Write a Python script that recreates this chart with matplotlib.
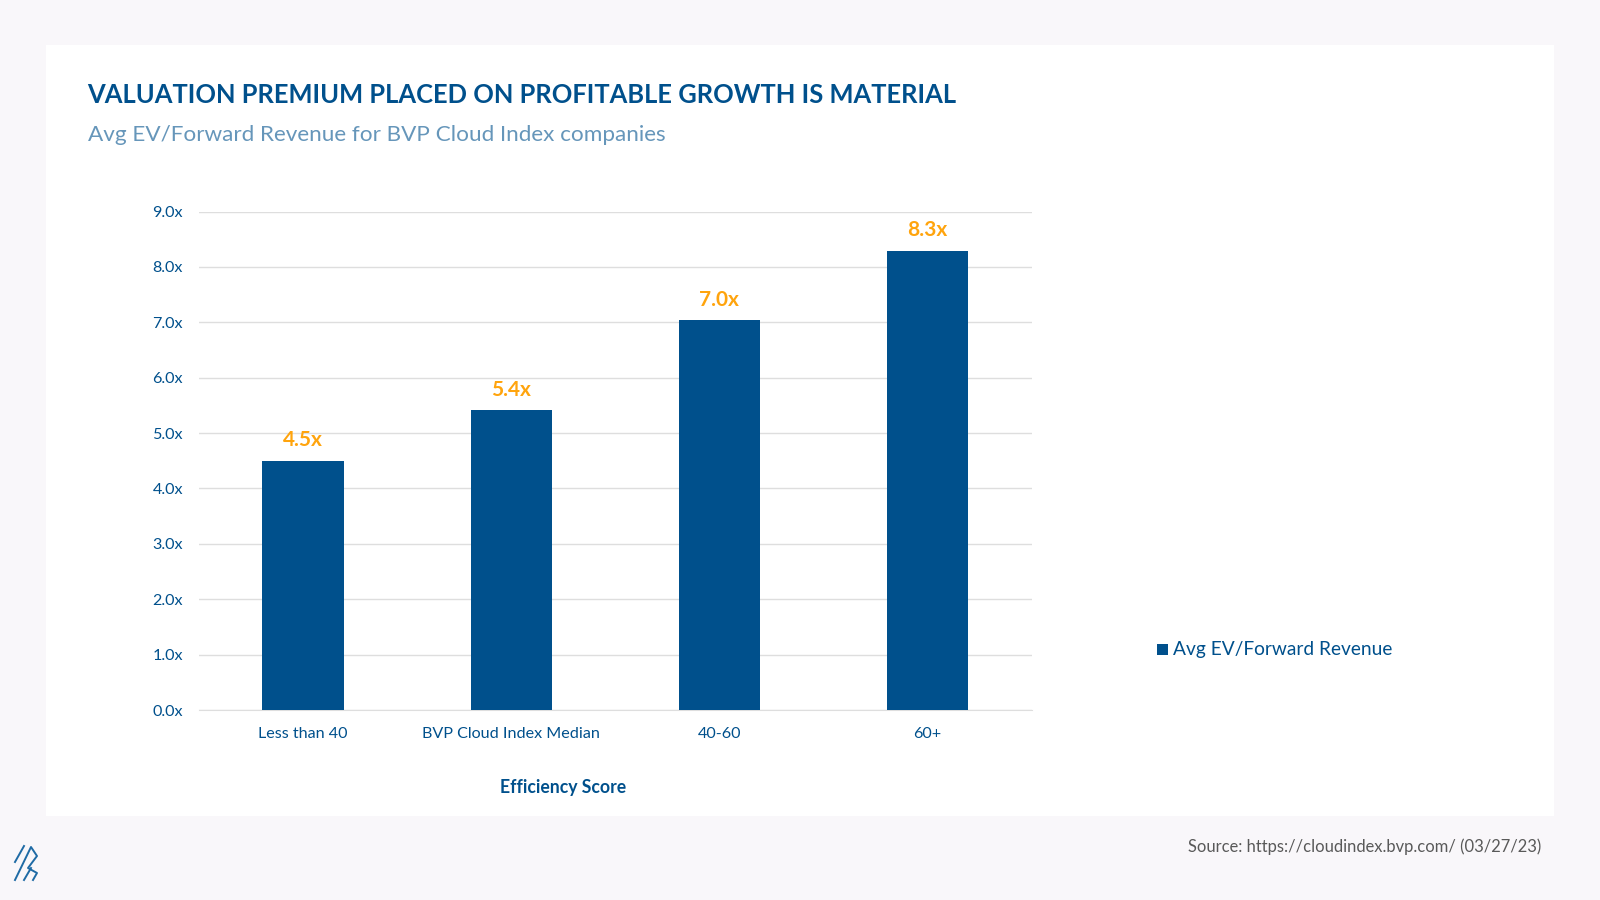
import matplotlib.pyplot as plt
from matplotlib.lines import Line2D
from matplotlib.patches import Rectangle

plt.rcParams['font.family'] = ['Lato', 'DejaVu Sans']

# Data
categories = ['Less than 40', 'BVP Cloud Index Median', '40-60', '60+']
ev_revenue = [4.5, 5.41, 7.04, 8.29]
y_ticks = [0, 1, 2, 3, 4, 5, 6, 7, 8, 9]

W, H = 1600, 900
NAVY = '#00508c'
LIGHT = '#6696ba'
ORANGE = '#ffa40d'
BG = '#f9f7fa'


def fx(px):
    return px / W


def fy(px):
    return 1 - px / H


fig = plt.figure(figsize=(16, 9), dpi=100, facecolor=BG)

# White panel behind the chart
fig.add_artist(Rectangle((fx(46), fy(816)), fx(1554 - 46), (816 - 45) / H,
                         transform=fig.transFigure, facecolor='white', edgecolor='none', zorder=-1))

ax = fig.add_axes([fx(199), fy(710), fx(1031.5 - 199), (710 - 211.5) / H], facecolor='none')
x = range(len(categories))
bars = ax.bar(x, ev_revenue, width=0.39, color=NAVY, zorder=3, label='Avg EV/Forward Revenue')

for xi, v in zip(x, ev_revenue):
    ax.annotate(f'{v:.1f}x', (xi, v), xytext=(0, 7.5), textcoords='offset points',
                ha='center', va='bottom', color=ORANGE, fontsize=15, fontweight='bold')

ax.set_xlim(-0.5, 3.5)
ax.set_ylim(0, 9)
ax.set_yticks(y_ticks)
ax.set_yticklabels([f'{t:.1f}x' for t in y_ticks])
ax.set_xticks(list(x))
ax.set_xticklabels(categories)
ax.tick_params(axis='both', length=0, labelcolor=NAVY, labelsize=11.6)
ax.tick_params(axis='y', pad=11.5)
ax.tick_params(axis='x', pad=12.5)
ax.grid(axis='y', color='#dedede', linewidth=1, zorder=0)
ax.set_axisbelow(True)
for s in ['top', 'right', 'left']:
    ax.spines[s].set_visible(False)
ax.spines['bottom'].set_color('#dedede')

fig.text(fx(563), fy(787), 'Efficiency Score', ha='center', va='center',
         color=NAVY, fontsize=12.7, fontweight='bold')

fig.text(fx(87), fy(95), 'VALUATION PREMIUM PLACED ON PROFITABLE GROWTH IS MATERIAL',
         ha='left', va='center', color=NAVY, fontsize=18.4, fontweight='bold')
fig.text(fx(88), fy(135), 'Avg EV/Forward Revenue for BVP Cloud Index companies',
         ha='left', va='center', color=LIGHT, fontsize=16.2)

# Legend
fig.add_artist(Rectangle((fx(1157), fy(654.5)), fx(11), 11 / H,
                         transform=fig.transFigure, facecolor=NAVY, edgecolor='none'))
fig.text(fx(1173), fy(649), 'Avg EV/Forward Revenue', ha='left', va='center',
         color=NAVY, fontsize=13.8)

fig.text(fx(1541.5), fy(847), 'Source: https://cloudindex.bvp.com/ (03/27/23)', ha='right',
         va='center', color='#595959', fontsize=11.9)

# Logo in the bottom corner
logo = [
    [(15, 862), (24, 846)],
    [(15, 880), (31, 847), (37, 856), (28, 868), (37, 873), (33, 880)],
    [(24, 880), (31, 868)],
]
for seg in logo:
    fig.add_artist(Line2D([fx(p[0]) for p in seg], [fy(p[1]) for p in seg],
                          transform=fig.transFigure, color='#1f6ba5', linewidth=1.4))

fig.savefig('out.png', dpi=100, facecolor=fig.get_facecolor())
